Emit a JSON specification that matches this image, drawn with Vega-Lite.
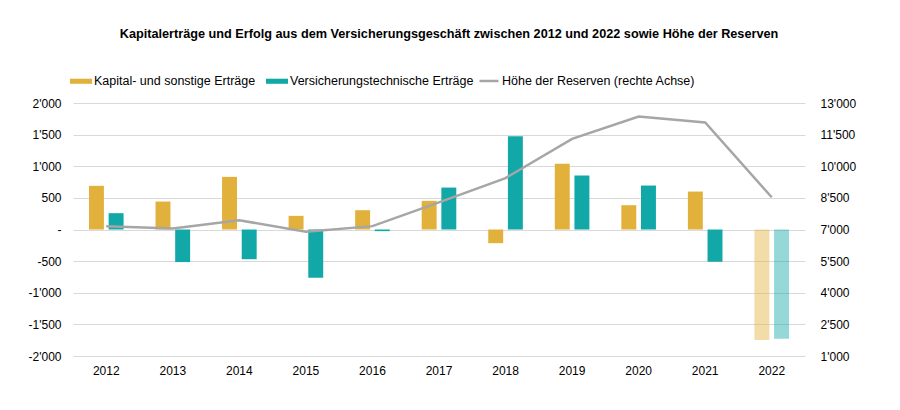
{
  "$schema": "https://vega.github.io/schema/vega-lite/v6.json",
  "autosize": {"type": "none"},
  "width": 732,
  "height": 253,
  "padding": {"left": 73, "top": 103, "right": 95, "bottom": 54},
  "background": "white",
  "title": {
    "text": "Kapitalerträge und Erfolg aus dem Versicherungsgeschäft zwischen 2012 und 2022 sowie Höhe der Reserven",
    "font": "Liberation Sans",
    "fontSize": 12.7,
    "fontWeight": "bold",
    "color": "#000000",
    "anchor": "middle",
    "dx": 10,
    "offset": 29
  },
  "config": {
    "view": {"stroke": null},
    "font": "Liberation Sans",
    "axis": {"labelFont": "Liberation Sans", "labelFontSize": 12, "labelColor": "#000000", "domain": false, "ticks": false, "title": null},
    "legend": {"labelFont": "Liberation Sans", "labelFontSize": 12.5, "labelColor": "#000000", "labelLimit": 400}
  },
  "data": {
    "values": [
      {"Jahr": "2012", "Serie": "Kapital- und sonstige Erträge", "Wert": 690},
      {"Jahr": "2012", "Serie": "Versicherungstechnische Erträge", "Wert": 258},
      {"Jahr": "2012", "Serie": "Höhe der Reserven (rechte Achse)", "Wert": 7150},
      {"Jahr": "2013", "Serie": "Kapital- und sonstige Erträge", "Wert": 442},
      {"Jahr": "2013", "Serie": "Versicherungstechnische Erträge", "Wert": -515},
      {"Jahr": "2013", "Serie": "Höhe der Reserven (rechte Achse)", "Wert": 7050},
      {"Jahr": "2014", "Serie": "Kapital- und sonstige Erträge", "Wert": 832},
      {"Jahr": "2014", "Serie": "Versicherungstechnische Erträge", "Wert": -470},
      {"Jahr": "2014", "Serie": "Höhe der Reserven (rechte Achse)", "Wert": 7440},
      {"Jahr": "2015", "Serie": "Kapital- und sonstige Erträge", "Wert": 216},
      {"Jahr": "2015", "Serie": "Versicherungstechnische Erträge", "Wert": -763},
      {"Jahr": "2015", "Serie": "Höhe der Reserven (rechte Achse)", "Wert": 6890},
      {"Jahr": "2016", "Serie": "Kapital- und sonstige Erträge", "Wert": 305},
      {"Jahr": "2016", "Serie": "Versicherungstechnische Erträge", "Wert": -26},
      {"Jahr": "2016", "Serie": "Höhe der Reserven (rechte Achse)", "Wert": 7160},
      {"Jahr": "2017", "Serie": "Kapital- und sonstige Erträge", "Wert": 453},
      {"Jahr": "2017", "Serie": "Versicherungstechnische Erträge", "Wert": 663},
      {"Jahr": "2017", "Serie": "Höhe der Reserven (rechte Achse)", "Wert": 8290},
      {"Jahr": "2018", "Serie": "Kapital- und sonstige Erträge", "Wert": -216},
      {"Jahr": "2018", "Serie": "Versicherungstechnische Erträge", "Wert": 1474},
      {"Jahr": "2018", "Serie": "Höhe der Reserven (rechte Achse)", "Wert": 9440},
      {"Jahr": "2019", "Serie": "Kapital- und sonstige Erträge", "Wert": 1038},
      {"Jahr": "2019", "Serie": "Versicherungstechnische Erträge", "Wert": 853},
      {"Jahr": "2019", "Serie": "Höhe der Reserven (rechte Achse)", "Wert": 11300},
      {"Jahr": "2020", "Serie": "Kapital- und sonstige Erträge", "Wert": 384},
      {"Jahr": "2020", "Serie": "Versicherungstechnische Erträge", "Wert": 695},
      {"Jahr": "2020", "Serie": "Höhe der Reserven (rechte Achse)", "Wert": 12360},
      {"Jahr": "2021", "Serie": "Kapital- und sonstige Erträge", "Wert": 600},
      {"Jahr": "2021", "Serie": "Versicherungstechnische Erträge", "Wert": -510},
      {"Jahr": "2021", "Serie": "Höhe der Reserven (rechte Achse)", "Wert": 12080},
      {"Jahr": "2022", "Serie": "Kapital- und sonstige Erträge", "Wert": -1749},
      {"Jahr": "2022", "Serie": "Versicherungstechnische Erträge", "Wert": -1727},
      {"Jahr": "2022", "Serie": "Höhe der Reserven (rechte Achse)", "Wert": 8530}
    ]
  },
  "encoding": {
    "x": {
      "field": "Jahr",
      "type": "ordinal",
      "scale": {"paddingInner": 0.48, "paddingOuter": 0.24},
      "axis": {"labelAngle": 0, "labelPadding": 9, "grid": false}
    }
  },
  "layer": [
    {
      "transform": [{"filter": "datum.Serie != 'Höhe der Reserven (rechte Achse)'"}],
      "mark": {"type": "bar"},
      "encoding": {
        "xOffset": {
          "field": "Serie",
          "type": "nominal",
          "sort": ["Kapital- und sonstige Erträge", "Versicherungstechnische Erträge"],
          "scale": {"paddingInner": 0.24}
        },
        "y": {
          "field": "Wert",
          "type": "quantitative",
          "scale": {"domain": [-2000, 2000], "nice": false},
          "axis": {
            "values": [-2000, -1500, -1000, -500, 0, 500, 1000, 1500, 2000],
            "grid": true,
            "gridColor": "#d9d9d9",
            "gridWidth": 1,
            "labelPadding": 12,
            "labelExpr": "datum.value == 0 ? '-' : replace(replace(format(datum.value, ','), ',', \"'\"), '\u2212', '-')"
          }
        },
        "color": {
          "field": "Serie",
          "type": "nominal",
          "scale": {
            "domain": ["Kapital- und sonstige Erträge", "Versicherungstechnische Erträge"],
            "range": ["#E2B13C", "#12A8A8"]
          },
          "legend": {
            "title": null,
            "orient": "none",
            "direction": "horizontal",
            "legendX": -3,
            "legendY": -33,
            "symbolType": "M-1,-0.23H1V0.23H-1Z",
            "symbolSize": 484,
            "symbolStrokeWidth": 0,
            "labelOffset": 2,
            "columnPadding": 10
          }
        },
        "opacity": {"condition": {"test": "datum.Jahr == '2022'", "value": 0.45}, "value": 1}
      }
    },
    {
      "transform": [{"filter": "datum.Serie == 'Höhe der Reserven (rechte Achse)'"}],
      "mark": {"type": "line", "strokeWidth": 2.5},
      "encoding": {
        "y": {
          "field": "Wert",
          "type": "quantitative",
          "scale": {"domain": [1000, 13000], "nice": false, "zero": false},
          "axis": {
            "orient": "right",
            "values": [1000, 2500, 4000, 5500, 7000, 8500, 10000, 11500, 13000],
            "grid": false,
            "labelPadding": 15,
            "labelExpr": "replace(format(datum.value, ','), ',', \"'\")"
          }
        },
        "stroke": {
          "field": "Serie",
          "type": "nominal",
          "scale": {"range": ["#A6A6A6"]},
          "legend": {
            "title": null,
            "orient": "none",
            "direction": "horizontal",
            "legendX": 405,
            "legendY": -33,
            "symbolType": "stroke",
            "symbolSize": 361,
            "symbolStrokeWidth": 2.5,
            "labelOffset": 2
          }
        }
      }
    }
  ],
  "resolve": {"scale": {"y": "independent"}}
}
